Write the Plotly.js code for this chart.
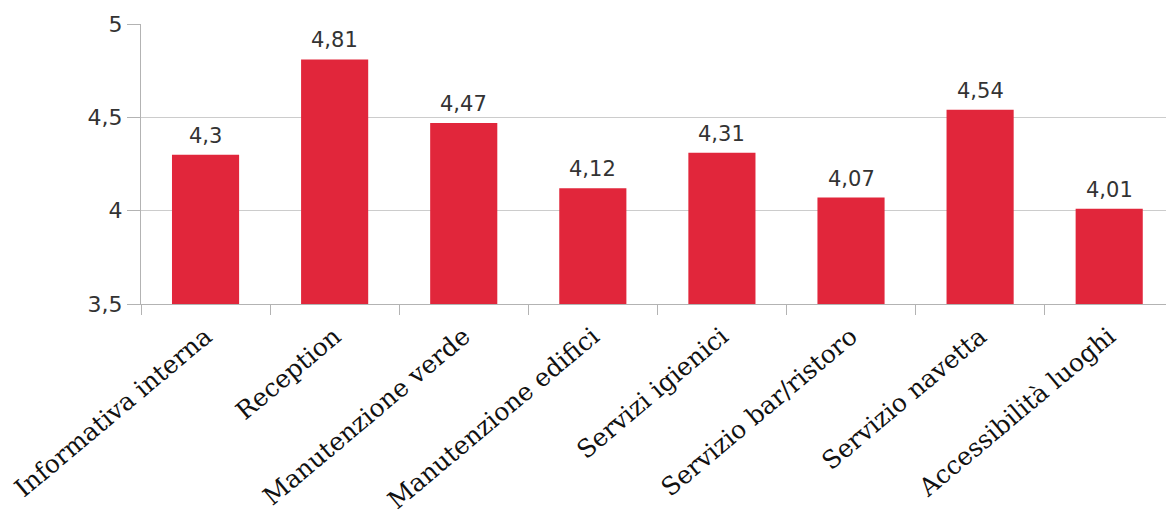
<!DOCTYPE html>
<html>
<head>
<meta charset="utf-8">
<script src="https://cdn.plot.ly/plotly-3.0.1.min.js"></script>
<style>html,body{margin:0;padding:0;background:#fff;}#chart{width:1166px;height:521px;}</style>
</head>
<body>
<div id="chart"></div>
<script>
const categories = ["Informativa interna", "Reception", "Manutenzione verde", "Manutenzione edifici", "Servizi igienici", "Servizio bar/ristoro", "Servizio navetta", "Accessibilità luoghi"];
const values = [4.3, 4.81, 4.47, 4.12, 4.31, 4.07, 4.54, 4.01];
const yTickVals = [3.5, 4, 4.5, 5];
const yTickText = ["3,5", "4", "4,5", "5"];

const labels = values.map(v => String(v).replace('.', ','));

const trace = {
  type: 'bar',
  x: categories,
  y: values,
  base: 0,
  marker: {color: '#e1263b'},
  hoverinfo: 'x+y'
};

const annotations = categories.map((c, i) => ({
  x: c, y: values[i], xref: 'x', yref: 'y',
  text: labels[i], showarrow: false, yanchor: 'bottom', yshift: 5,
  font: {family: 'DejaVu Sans', size: 21, color: '#333333'}
}));

const layout = {
  width: 1166, height: 521,
  margin: {l: 141, r: 0, t: 24, b: 217},
  paper_bgcolor: '#ffffff', plot_bgcolor: '#ffffff',
  showlegend: false,
  bargap: 0.48,
  xaxis: {
    type: 'category',
    range: [-0.5, 7.44],
    tickangle: -40,
    tickson: 'boundaries',
    ticks: 'outside', ticklen: 10, tickcolor: '#b3b3b3',
    ticklabelstandoff: 7,
    showline: true, linecolor: '#b3b3b3',
    showgrid: false,
    tickfont: {family: 'DejaVu Serif', size: 25, color: '#111111'}
  },
  yaxis: {
    range: [3.5, 5],
    tickvals: yTickVals, ticktext: yTickText,
    ticks: 'outside', ticklen: 13, tickcolor: '#b3b3b3',
    showline: true, linecolor: '#b3b3b3',
    showgrid: true, gridcolor: '#cccccc',
    zeroline: false,
    tickfont: {family: 'DejaVu Sans', size: 22, color: '#333333'}
  },
  annotations: annotations
};

Plotly.newPlot('chart', [trace], layout, {displayModeBar: false, staticPlot: true});
</script>
</body>
</html>
